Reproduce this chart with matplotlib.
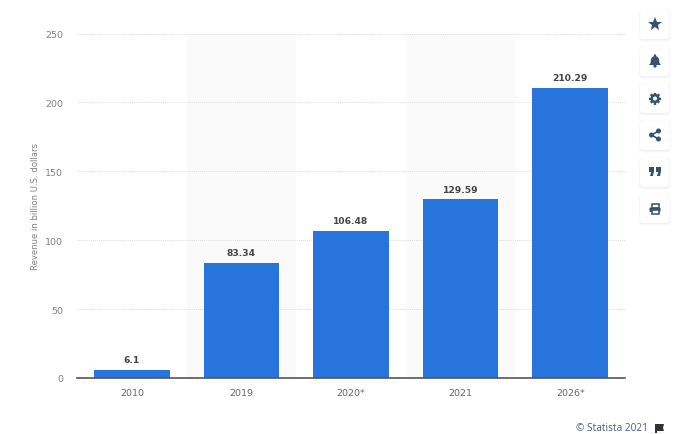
import matplotlib
matplotlib.use("Agg")
import matplotlib.pyplot as plt
from matplotlib.patches import FancyBboxPatch, Polygon, Circle, Rectangle, Wedge
import numpy as np

years = ["2010", "2019", "2020*", "2021", "2026*"]
revenue = [6.1, 83.34, 106.48, 129.59, 210.29]
value_labels = ["6.1", "83.34", "106.48", "129.59", "210.29"]
y_ticks = [0, 50, 100, 150, 200, 250]

plt.rcParams["font.family"] = ["DejaVu Sans"]
icon_color = "#37526f"

fig = plt.figure(figsize=(6.8, 4.35), dpi=100)
ax = fig.add_axes([77 / 680, 56 / 435, 548 / 680, 344.5 / 435])

# every other category has a faint band
for i in range(len(years)):
    if i % 2 == 1:
        ax.axvspan(i - 0.5, i + 0.5, color="#fafafa", lw=0, zorder=0)

ax.bar(range(len(years)), revenue, width=0.69, color="#2775dc", zorder=3)
for i, v in enumerate(revenue):
    ax.text(i, v + 4.2, value_labels[i], ha="center", va="bottom",
            fontsize=6.6, fontweight="bold", color="#444444", zorder=4)

ax.set_xlim(-0.5, len(years) - 0.5)
ax.set_ylim(0, 250)
ax.set_xticks(range(len(years)))
ax.set_xticklabels(years, fontsize=6.8, color="#666666")
ax.set_yticks(y_ticks)
ax.set_yticklabels([str(t) for t in y_ticks], fontsize=6.8, color="#808080")
ax.tick_params(axis="both", length=0)
ax.tick_params(axis="x", pad=7)
ax.tick_params(axis="y", pad=10)
ax.grid(axis="y", color="#dcdcdc", lw=0.7, ls=(0, (1, 1)), zorder=1)
ax.set_axisbelow(True)
for side in ["top", "left", "right"]:
    ax.spines[side].set_visible(False)
ax.spines["bottom"].set_color("#555555")
ax.spines["bottom"].set_linewidth(1.2)
ax.spines["bottom"].set_zorder(5)

fig.text(36 / 680, 1 - 207 / 435, "Revenue in billion U.S. dollars", rotation=90,
         ha="center", va="center", fontsize=6.1, color="#808080")
fig.text(648 / 680, 1 - 429 / 435, "\u00a9 Statista 2021", ha="right", va="center",
         fontsize=7.3, color="#4a5d78", family="Open Sans")

# overlay in pixel coordinates for the side buttons and the flag
ov = fig.add_axes([0, 0, 1, 1], facecolor="none")
ov.set_xlim(0, 680)
ov.set_ylim(435, 0)
ov.axis("off")

# flag next to the copyright
ov.add_patch(Polygon([(655, 425), (664, 425), (663, 429), (664, 432), (657, 432),
                      (657, 434), (655, 434)], closed=True, color="#333333", lw=0))

card_tops = [11, 48, 85, 122, 159, 195]
for top in card_tops:
    for grow, alpha in [(4, 0.012), (3, 0.018), (2, 0.025), (1, 0.03)]:
        ov.add_patch(FancyBboxPatch((642 - grow, top + 3 - grow), 25 + 2 * grow, 25 + 2 * grow,
                                    boxstyle="round,pad=0,rounding_size=4",
                                    fc="black", ec="none", alpha=alpha))
    ov.add_patch(FancyBboxPatch((640, top), 29, 29, boxstyle="round,pad=0,rounding_size=4",
                                fc="white", ec="none"))

cx = 655
# star
ov.plot([cx], [25], marker="*", ms=10.5, color=icon_color, mew=0)
# bell
cy = 62
ov.add_patch(Wedge((cx, cy - 1), 4, 180, 360, color=icon_color, lw=0))
ov.add_patch(Polygon([(cx - 4, cy - 2), (cx + 4, cy - 2), (cx + 4.5, cy + 2), (cx + 6, cy + 4),
                      (cx - 6, cy + 4), (cx - 4.5, cy + 2)], closed=True, color=icon_color, lw=0))
ov.add_patch(Circle((cx, cy + 5), 1.6, color=icon_color, lw=0))
ov.add_patch(Circle((cx, cy - 5.5), 1.2, color=icon_color, lw=0))
# gear
cy = 99.5
for ang in np.arange(0, 180, 45):
    dx, dy = 6 * np.cos(np.radians(ang)), 6 * np.sin(np.radians(ang))
    ov.plot([cx - dx, cx + dx], [cy - dy, cy + dy], color=icon_color, lw=1.7, solid_capstyle="butt")
ov.add_patch(Circle((cx, cy), 4.6, color=icon_color, lw=0))
ov.add_patch(Circle((cx, cy), 2, color="white", lw=0, zorder=5))
# share
cy = 136
ov.plot([cx + 3.5, cx - 3.5, cx + 3.5], [cy - 4, cy, cy + 4], color=icon_color, lw=1.2)
for dx, dy in [(3.5, -4), (-3.5, 0), (3.5, 4)]:
    ov.add_patch(Circle((cx + dx, cy + dy), 2.5, color=icon_color, lw=0))
# quotes
cy = 172
for dx in [-6, 1]:
    ov.add_patch(Rectangle((cx + dx, cy - 4), 5, 4.5, color=icon_color, lw=0))
    ov.add_patch(Polygon([(cx + dx + 2.5, cy), (cx + dx + 5, cy), (cx + dx + 4, cy + 5),
                          (cx + dx + 1, cy + 5)], closed=True, color=icon_color, lw=0))
# printer
cy = 210
ov.add_patch(Rectangle((cx - 3.5, cy - 5), 7, 4, fc="white", ec=icon_color, lw=1.1))
ov.add_patch(FancyBboxPatch((cx - 5.5, cy - 1.5), 11, 4.5, boxstyle="round,pad=0,rounding_size=1",
                            fc=icon_color, ec="none"))
ov.add_patch(Rectangle((cx - 3.5, cy + 1), 7, 3.5, fc="white", ec=icon_color, lw=1.1))

fig.savefig("out.png", dpi=100)
